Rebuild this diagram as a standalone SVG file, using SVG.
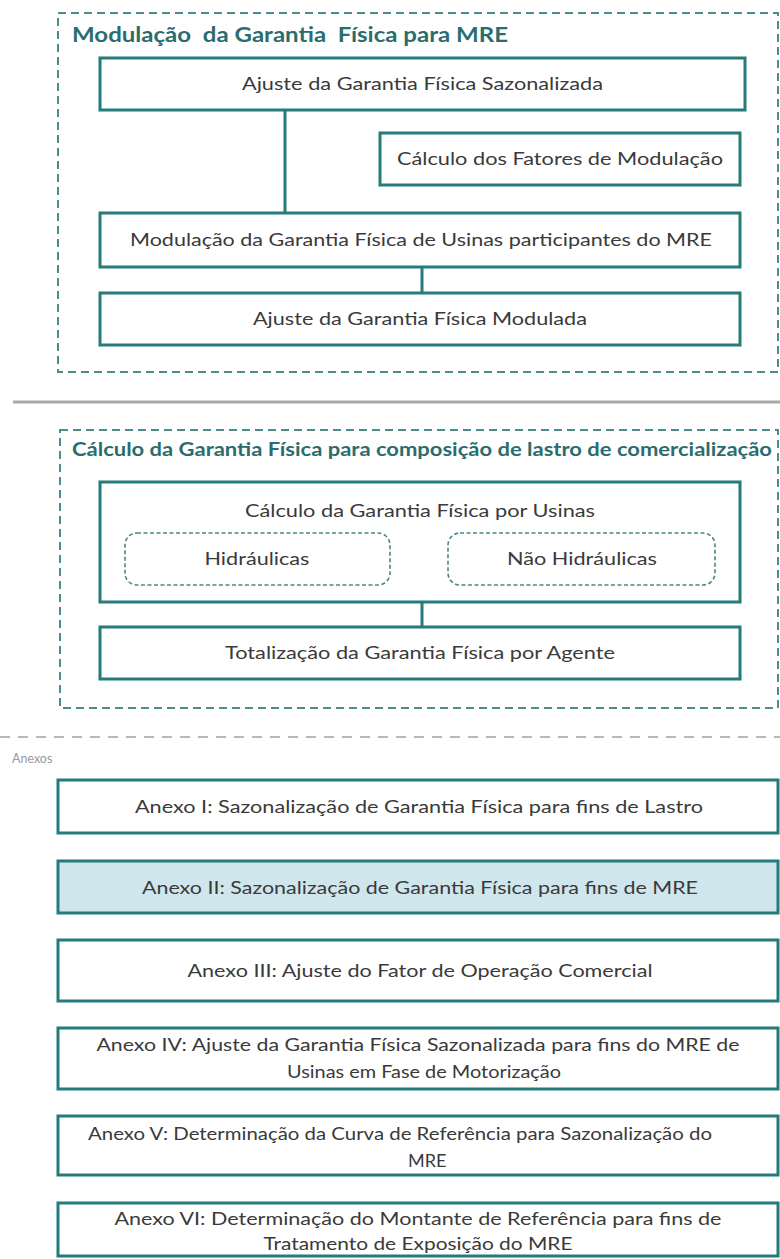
<svg xmlns="http://www.w3.org/2000/svg" width="780" height="1259" viewBox="0 0 780 1259">
<style>
.frame{fill:none;stroke:#4b8d8d;stroke-width:2;stroke-dasharray:8 5}
.box{fill:#ffffff;stroke:#237b7b;stroke-width:3}
.hl{fill:#cfe6ec;stroke:#237b7b;stroke-width:3}
.sub{fill:#ffffff;stroke:#4f8686;stroke-width:1.6;stroke-dasharray:4 2.5}
.conn{stroke:#237b7b;stroke-width:3;fill:none}
.title{font-family:Lato,"Open Sans",sans-serif;font-weight:bold;fill:#2b6d6e}
.t{font-family:Lato,"Open Sans",sans-serif;font-size:18px;fill:#3a3a3a}
.c{text-anchor:middle}
</style>
<rect width="780" height="1259" fill="#ffffff"/>

<g id="frame-modulacao">
<rect class="frame" x="58" y="13" width="720" height="359"/>
<text class="title" x="72" y="42" font-size="20" textLength="436" lengthAdjust="spacingAndGlyphs" xml:space="preserve">Modulação  da Garantia  Física para MRE</text>
</g>

<g id="sep-solid"><line x1="13" y1="402" x2="780" y2="402" stroke="#a9a9a9" stroke-width="3"/></g>

<g id="frame-calculo">
<rect class="frame" x="60" y="430" width="718" height="278"/>
<text class="title" x="72" y="456" font-size="18" textLength="700" lengthAdjust="spacingAndGlyphs">Cálculo da Garantia Física para composição de lastro de comercialização</text>
</g>

<g id="sep-dashed">
<line x1="0" y1="737" x2="780" y2="737" stroke="#b8b8b8" stroke-width="2" stroke-dasharray="10 8"/>
<text x="12" y="763" font-family="Lato,'Open Sans',sans-serif" font-size="12.5" fill="#9a9a9a">Anexos</text>
</g>

<g id="connectors">
<line class="conn" x1="285" y1="110" x2="285" y2="213"/>
<line class="conn" x1="422" y1="267" x2="422" y2="293"/>
<line class="conn" x1="422" y1="602" x2="422" y2="627"/>
</g>

<g id="n-ajuste-saz">
<rect class="box" x="100" y="58" width="645" height="52"/>
<text class="t c" x="422.5" y="90" textLength="361" lengthAdjust="spacingAndGlyphs">Ajuste da Garantia Física Sazonalizada</text>
</g>
<g id="n-fatores">
<rect class="box" x="380" y="133" width="360" height="52"/>
<text class="t c" x="560" y="165" textLength="326" lengthAdjust="spacingAndGlyphs">Cálculo dos Fatores de Modulação</text>
</g>
<g id="n-modulacao-usinas">
<rect class="box" x="100" y="213" width="640" height="54"/>
<text class="t c" x="421" y="246" textLength="582" lengthAdjust="spacingAndGlyphs">Modulação da Garantia Física de Usinas participantes do MRE</text>
</g>
<g id="n-ajuste-mod">
<rect class="box" x="100" y="293" width="640" height="52"/>
<text class="t c" x="420" y="325" textLength="334" lengthAdjust="spacingAndGlyphs">Ajuste da Garantia Física Modulada</text>
</g>

<g id="n-calc-usinas">
<rect class="box" x="100" y="482" width="640" height="120"/>
<text class="t c" x="420" y="517" textLength="350" lengthAdjust="spacingAndGlyphs">Cálculo da Garantia Física por Usinas</text>
</g>
<g id="n-hidraulicas">
<rect class="sub" x="125" y="533" width="265" height="52" rx="12"/>
<text class="t c" x="257" y="565" textLength="105" lengthAdjust="spacingAndGlyphs">Hidráulicas</text>
</g>
<g id="n-nao-hidraulicas">
<rect class="sub" x="448" y="533" width="267" height="52" rx="12"/>
<text class="t c" x="582" y="565" textLength="150" lengthAdjust="spacingAndGlyphs">Não Hidráulicas</text>
</g>
<g id="n-totalizacao">
<rect class="box" x="100" y="627" width="640" height="52"/>
<text class="t c" x="420" y="659" textLength="390" lengthAdjust="spacingAndGlyphs">Totalização da Garantia Física por Agente</text>
</g>

<g id="n-anexo1">
<rect class="box" x="58" y="780" width="720" height="53"/>
<text class="t c" x="419" y="813" textLength="568" lengthAdjust="spacingAndGlyphs">Anexo I: Sazonalização de Garantia Física para fins de Lastro</text>
</g>
<g id="n-anexo2">
<rect class="hl" x="58" y="861" width="720" height="52"/>
<text class="t c" x="420" y="894" textLength="556" lengthAdjust="spacingAndGlyphs">Anexo II: Sazonalização de Garantia Física para fins de MRE</text>
</g>
<g id="n-anexo3">
<rect class="box" x="58" y="940" width="720" height="61"/>
<text class="t c" x="420" y="977" textLength="465" lengthAdjust="spacingAndGlyphs">Anexo III: Ajuste do Fator de Operação Comercial</text>
</g>
<g id="n-anexo4">
<rect class="box" x="58" y="1028" width="720" height="61"/>
<text class="t c" x="418" y="1051" textLength="643" lengthAdjust="spacingAndGlyphs">Anexo IV: Ajuste da Garantia Física Sazonalizada para fins do MRE de</text>
<text class="t c" x="424" y="1078" textLength="274" lengthAdjust="spacingAndGlyphs">Usinas em Fase de Motorização</text>
</g>
<g id="n-anexo5">
<rect class="box" x="58" y="1116" width="720" height="59"/>
<text class="t c" x="400" y="1140" textLength="624" lengthAdjust="spacingAndGlyphs">Anexo V: Determinação da Curva de Referência para Sazonalização do</text>
<text class="t" x="408" y="1167">MRE</text>
</g>
<g id="n-anexo6">
<rect class="box" x="58" y="1203" width="720" height="53"/>
<text class="t c" x="418" y="1225" textLength="607" lengthAdjust="spacingAndGlyphs">Anexo VI: Determinação do Montante de Referência para fins de</text>
<text class="t c" x="418" y="1250" textLength="309" lengthAdjust="spacingAndGlyphs">Tratamento de Exposição do MRE</text>
</g>
</svg>
